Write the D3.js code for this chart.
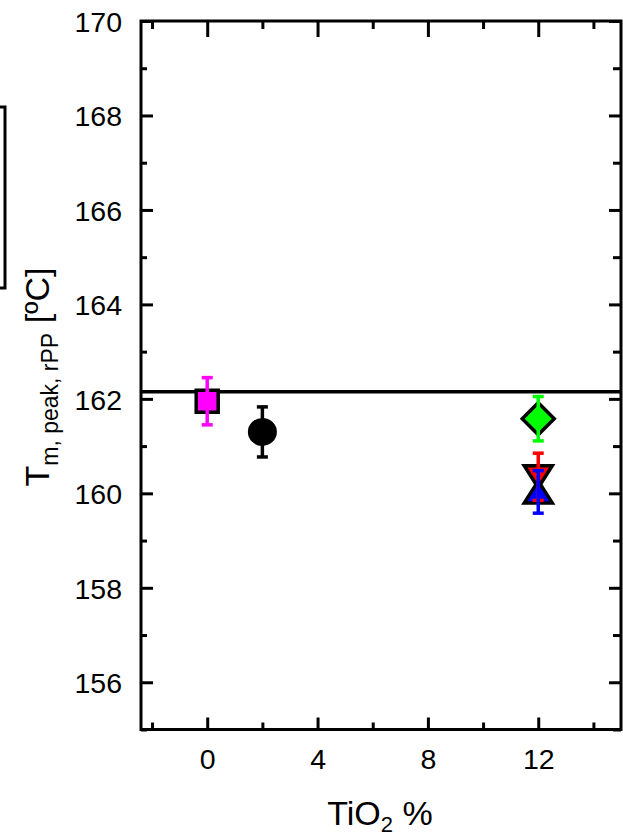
<!DOCTYPE html>
<html>
<head>
<meta charset="utf-8">
<script src="https://cdn.jsdelivr.net/npm/d3@7"></script>
<style>
  html, body { margin: 0; padding: 0; background: #fff; }
  svg { display: block; }
  text { font-family: "Liberation Sans", Arial, sans-serif; fill: #000; }
</style>
</head>
<body>
<svg id="chart" width="623" height="837"></svg>
<script>
// ---- data ----
const series = ["s1", "s2", "s3", "s4", "s5"];
const tio2 = [0, 2, 12, 12, 12];
const tPeak = [161.95, 161.3, 161.58, 160.35, 160.03];
const tErr = [0.5, 0.53, 0.47, 0.5, 0.45];
const shapes = ["square", "circle", "diamond", "triDown", "triUp"];
const colors = ["#FF00FF", "#000000", "#00FF00", "#FF0000", "#0000FF"];
const refLine = [162.15];
const xTicks = [0, 4, 8, 12];
const xMinor = [-2, 2, 6, 10, 14];
const yTicks = [156, 158, 160, 162, 164, 166, 168, 170];
const yMinor = [155, 157, 159, 161, 163, 165, 167, 169];
const xDomain = [-2.4, 15];
const yDomain = [155, 170];

// ---- layout ----
const L = 141, R = 621, T = 21, B = 729.5;
const svg = d3.select("#chart");
const x = d3.scaleLinear().domain(xDomain).range([L, R]);
const y = d3.scaleLinear().domain(yDomain).range([B, T]);

// partial legend box (cropped at left edge)
svg.append("rect").attr("x", -50).attr("y", 107).attr("width", 55).attr("height", 181)
  .attr("fill", "none").attr("stroke", "#000").attr("stroke-width", 3);

// reference line
svg.append("line").attr("x1", x(xDomain[0])).attr("x2", x(xDomain[1]))
  .attr("y1", y(refLine[0])).attr("y2", y(refLine[0]))
  .attr("stroke", "#000").attr("stroke-width", 3.5);

// symbols
const g = svg.append("g");
const data = series.map((s, i) => ({x: tio2[i], y: tPeak[i], e: tErr[i], shape: shapes[i], c: colors[i]}));
function symPath(shape) {
  switch (shape) {
    case "square": return "M-11,-11H11V11H-11Z";
    case "diamond": return "M0,-16L16,0L0,16L-16,0Z";
    case "triDown": return "M-14,-11H14L0,11Z";
    case "triUp": return "M0,-11L14,11H-14Z";
    default: return null;
  }
}
data.forEach(d => {
  if (d.shape === "circle") {
    g.append("ellipse").attr("cx", x(d.x)).attr("cy", y(d.y)).attr("rx", 13).attr("ry", 12.5)
      .attr("fill", d.c).attr("stroke", "#000").attr("stroke-width", 3);
  } else {
    g.append("path").attr("d", symPath(d.shape))
      .attr("transform", `translate(${x(d.x)},${y(d.y)})`)
      .attr("fill", d.c).attr("stroke", "#000").attr("stroke-width", 3.5)
      .attr("stroke-linejoin", "miter");
  }
});

// error bars
const eg = svg.append("g").attr("stroke-width", 3.5);
data.forEach(d => {
  const cx = x(d.x), y1 = y(d.y + d.e), y2 = y(d.y - d.e), w = 5.5;
  eg.append("line").attr("x1", cx).attr("x2", cx).attr("y1", y1).attr("y2", y2).attr("stroke", d.c);
  eg.append("line").attr("x1", cx - w).attr("x2", cx + w).attr("y1", y1).attr("y2", y1).attr("stroke", d.c);
  eg.append("line").attr("x1", cx - w).attr("x2", cx + w).attr("y1", y2).attr("y2", y2).attr("stroke", d.c);
});

// axes (ticks inward)
function styleAxis(sel) {
  sel.select(".domain").remove();
  sel.selectAll("line").attr("stroke", "#000").attr("stroke-width", 3);
}
const bottomMaj = d3.axisBottom(x).tickValues(xTicks).tickSizeInner(-12).tickSizeOuter(0).tickFormat(d3.format("d"));
const bottomMin = d3.axisBottom(x).tickValues(xMinor).tickSizeInner(-7).tickSizeOuter(0).tickFormat("");
const gb = svg.append("g").attr("transform", `translate(0,${B})`).call(bottomMaj);
styleAxis(gb);
gb.selectAll("text").attr("font-size", 28.5).attr("dy", "0.71em").attr("y", 19);
styleAxis(svg.append("g").attr("transform", `translate(0,${B})`).call(bottomMin));

styleAxis(svg.append("g").attr("transform", `translate(0,${T})`)
  .call(d3.axisTop(x).tickValues(xTicks).tickSizeInner(-16).tickSizeOuter(0).tickFormat("")));
styleAxis(svg.append("g").attr("transform", `translate(0,${T})`)
  .call(d3.axisTop(x).tickValues(xMinor).tickSizeInner(-8).tickSizeOuter(0).tickFormat("")));

const gl = svg.append("g").attr("transform", `translate(${L},0)`)
  .call(d3.axisLeft(y).tickValues(yTicks).tickSizeInner(-12).tickSizeOuter(0).tickFormat(d3.format("d")));
styleAxis(gl);
gl.selectAll("text").attr("font-size", 28.5).attr("x", -19).attr("dy", "0.36em");
styleAxis(svg.append("g").attr("transform", `translate(${L},0)`)
  .call(d3.axisLeft(y).tickValues(yMinor).tickSizeInner(-6).tickSizeOuter(0).tickFormat("")));

styleAxis(svg.append("g").attr("transform", `translate(${R},0)`)
  .call(d3.axisRight(y).tickValues(yTicks).tickSizeInner(-12).tickSizeOuter(0).tickFormat("")));
styleAxis(svg.append("g").attr("transform", `translate(${R},0)`)
  .call(d3.axisRight(y).tickValues(yMinor).tickSizeInner(-8).tickSizeOuter(0).tickFormat("")));

// frame
svg.append("rect").attr("x", L).attr("y", T).attr("width", R - L).attr("height", B - T)
  .attr("fill", "none").attr("stroke", "#000").attr("stroke-width", 3);

// x title
const xt = svg.append("text").attr("x", 380).attr("y", 825).attr("text-anchor", "middle").attr("font-size", 34);
xt.append("tspan").text("TiO");
xt.append("tspan").attr("font-size", 22).attr("dy", 7).text("2");
xt.append("tspan").attr("dy", -7).text(" %");

// y title
const yt = svg.append("text").attr("transform", "translate(49,377) rotate(-90)")
  .attr("text-anchor", "middle").attr("font-size", 34);
yt.append("tspan").text("T");
yt.append("tspan").attr("font-size", 23).attr("dy", 9).text("m, peak, rPP");
yt.append("tspan").attr("dy", -9).text(" [ºC]");
</script>
</body>
</html>
